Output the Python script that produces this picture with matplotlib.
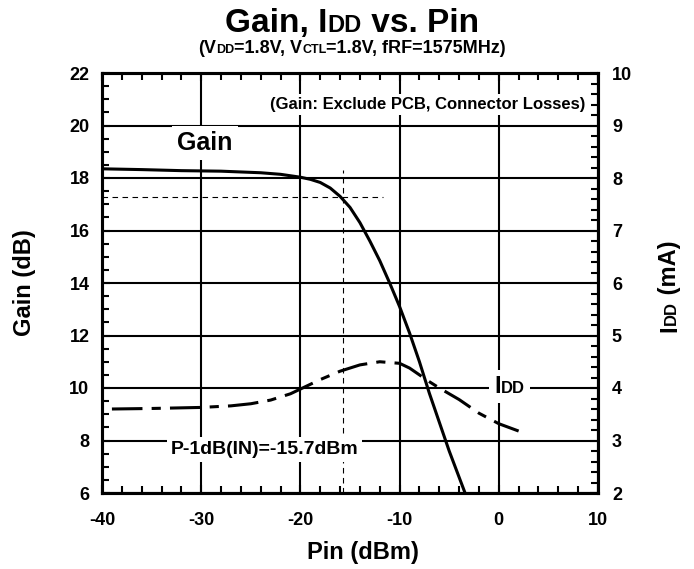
import numpy as np
import matplotlib
matplotlib.use("Agg")
import matplotlib.pyplot as plt
from matplotlib.ticker import MultipleLocator
from matplotlib.transforms import IdentityTransform, Bbox
from matplotlib.patches import Rectangle

# Gain curve (dB) vs input power (dBm)
pin_gain = [-40, -36, -32, -28, -24, -22, -20, -19, -18, -17, -16, -15, -14, -13,
            -12, -11, -10, -9, -8, -7, -6, -5, -4, -3.4]
gain_db = [18.35, 18.32, 18.28, 18.26, 18.2, 18.14, 18.03, 17.95, 17.83, 17.62, 17.3,
           16.88, 16.3, 15.6, 14.85, 14.0, 13.1, 12.1, 11.0, 9.8, 8.7, 7.6, 6.6, 6.0]

# IDD curve (mA) vs input power (dBm)
pin_idd = [-39, -35, -30, -27, -25, -23, -21, -20, -18, -16, -14, -12, -10, -9, -8,
           -7, -6, -4, -2, 0, 2]
idd_ma = [3.60, 3.61, 3.63, 3.66, 3.70, 3.77, 3.89, 3.98, 4.16, 4.32, 4.44, 4.50, 4.47,
          4.38, 4.25, 4.12, 4.00, 3.78, 3.52, 3.32, 3.18]

p1db_in = -15.7
p1db_gain = 17.28

plt.rcParams["font.family"] = ["Liberation Sans", "DejaVu Sans"]
plt.rcParams["font.weight"] = "bold"
plt.rcParams["axes.unicode_minus"] = False

fig = plt.figure(figsize=(6.94, 5.69), dpi=100)
W, H = 694, 569
ax = fig.add_axes([102 / W, 76 / H, 496 / W, 420 / H])
ax2 = ax.twinx()

ax.plot(pin_gain, gain_db, color="black", lw=2.2, zorder=3)
ax2.plot(pin_idd, idd_ma, color="black", lw=2.2, dashes=(10, 3, 3, 3))

# P-1dB markers
ax.plot([-40, -11.7], [p1db_gain, p1db_gain], color="black", lw=0.8, dashes=(5, 4), zorder=2)
ax.plot([p1db_in, p1db_in], [6, 18.3], color="black", lw=0.8, dashes=(5, 4), zorder=2)

ax.set_xlim(-40, 10)
ax.set_ylim(6, 22)
ax2.set_ylim(2, 10)
ax.xaxis.set_major_locator(MultipleLocator(10))
ax.xaxis.set_minor_locator(MultipleLocator(2))
ax.yaxis.set_major_locator(MultipleLocator(2))
ax.yaxis.set_minor_locator(MultipleLocator(0.5))
ax2.yaxis.set_major_locator(MultipleLocator(1))
ax2.yaxis.set_minor_locator(MultipleLocator(0.2))

ax.grid(which="major", color="black", lw=1.5)
ax.tick_params(which="both", direction="in", top=True, right=False, labelsize=13, width=1.5)
ax.tick_params(which="minor", length=5)
ax.tick_params(which="major", length=6)
ax.tick_params(axis="x", pad=14)
ax.tick_params(axis="y", pad=9)
ax2.tick_params(which="both", direction="in", labelsize=13, width=1.5, pad=10)
ax2.tick_params(which="minor", length=5)
ax2.tick_params(which="major", length=6)
for a in (ax, ax2):
    for sp in a.spines.values():
        sp.set_linewidth(2.2)

box = dict(boxstyle="square,pad=0.2", fc="white", ec="none")
ax.text(-29.6, 19.07, "Gain", fontsize=18, ha="center", va="baseline", bbox=box, zorder=4)
ax.text(8.7, 20.63, "(Gain: Exclude PCB, Connector Losses)", fontsize=12, ha="right",
        va="baseline", bbox=box, zorder=4)
ax.text(-23.6, 7.49, "P-1dB(IN)=-15.7dBm", fontsize=14, ha="center", va="baseline",
        bbox=box, zorder=4)

fig.text(25 / W, 1 - 283 / H, "Gain (dB)", rotation=90, ha="center", va="center", fontsize=17)
fig.text(363 / W, 1 - 552 / H, "Pin (dBm)", ha="center", va="center", fontsize=17)

renderer = fig.canvas.get_renderer()


def rich_text(x, y, pieces, rotation=0, center=True, **kw):
    # pieces of different sizes placed along one baseline, x/y in pixels
    texts = [fig.text(0, 0, s, fontsize=size, transform=IdentityTransform(), ha="left",
                      va="baseline", rotation_mode="anchor", **kw) for s, size in pieces]
    widths = [t.get_window_extent(renderer).width for t in texts]
    pos = -sum(widths) / 2 if center else 0
    ang = np.deg2rad(rotation)
    for t, w in zip(texts, widths):
        t.set_position((x + pos * np.cos(ang), y + pos * np.sin(ang)))
        t.set_rotation(rotation)
        pos += w
    return texts


rich_text(352, H - 32, [("Gain, I", 24), ("DD", 17), (" vs. Pin", 24)])
rich_text(352, H - 53, [("(V", 13), ("DD", 9), ("=1.8V, V", 13), ("CTL", 9),
                        ("=1.8V, fRF=1575MHz)", 13)])
rich_text(676, H - 332, [("I", 17), ("DD", 12), (" (mA)", 17)], rotation=90, center=False)

# IDD label inside the plot, on a white patch
lx, ly = ax.transData.transform((-0.48, 9.81))
label = rich_text(lx, ly, [("I", 17), ("DD", 12)], center=False, zorder=5)
bb = Bbox.union([t.get_window_extent(renderer) for t in label])
pad = 5
fig.patches.append(Rectangle((bb.x0 - pad, bb.y0 - pad), bb.width + 2 * pad,
                             bb.height + 2 * pad, transform=IdentityTransform(),
                             fc="white", ec="none", zorder=4))

fig.savefig("out.png", dpi=100)
